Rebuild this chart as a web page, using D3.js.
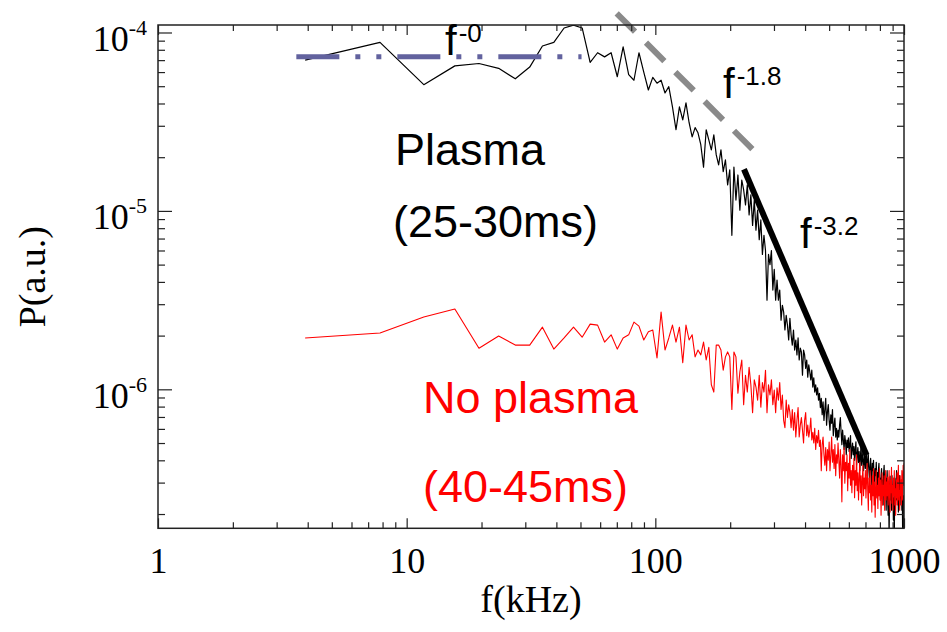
<!DOCTYPE html>
<html><head><meta charset="utf-8">
<script src="https://cdn.jsdelivr.net/npm/d3@7"></script>
<style>body{margin:0;background:#fff}svg{display:block}</style>
</head><body>
<svg id="chart" width="947" height="632"></svg>
<script>
// FFT bin spacing (kHz); spectra sampled at k * freqStep, k = 1..256
const freqStep = 3.90625;

// Plasma spectrum (25-30 ms), P(a.u.)
const plasma = [
7.0e-5,8.8e-5,5.1e-5,6.5e-5,6.7e-5,6.3e-5,5.5e-5,6.4e-5,8.4e-5,8.8e-5,
1.06e-4,1.10e-4,1.06e-4,6.8e-5,7.7e-5,7.3e-5,7.7e-5,5.65e-5,8.3e-5,5.8e-5,
5.4e-5,7.7e-5,6.0e-5,4.76e-5,5.6e-5,5.2e-5,5.4e-5,4.58e-5,4.97e-5,3.83e-5,
2.85e-5,3.83e-5,3.24e-5,4.03e-5,3.12e-5,2.6e-5,2.93e-5,2.74e-5,2.35e-5,1.76e-5,
2.85e-5,2.50e-5,2.20e-5,2.67e-5,2.06e-5,1.81e-5,2.20e-5,1.66e-5,1.93e-5,1.40e-5,
1.70e-5,7.3e-6,1.76e-5,1.15e-5,1.59e-5,1.01e-5,1.49e-5,1.31e-5,1.08e-5,1.40e-5,
9.5e-6,1.23e-5,8.3e-6,1.15e-5,7.8e-6,1.01e-5,6.9e-6,8.9e-6,5.7e-6,7.3e-6,
6.0e-6,3.16e-6,5.7e-6,5.0e-6,6.0e-6,3.6e-6,4.7e-6,3.16e-6,4.1e-6,3.16e-6,
3.6e-6,2.44e-6,2.96e-6,2.71e-6,2.15e-6,2.6e-6,2.29e-6,1.89e-6,2.5e-6,2.02e-6,
1.77e-6,2.15e-6,1.66e-6,1.89e-6,1.56e-6,1.94e-6,1.46e-6,1.70e-6,1.62e-6,1.2e-6,
1.66e-6,1.56e-6,1.31e-6,1.46e-6,1.17e-6,1.37e-6,1.25e-6,1.13e-6,1.28e-6,1.03e-6,
1.16e-6,9.65e-7,1.06e-6,9.3e-7,1.02e-6,8.7e-7,9.5e-7,7.9e-7,8.9e-7,7.2e-7,
8.5e-7,6.7e-7,7.7e-7,8.9e-7,6.3e-7,7.5e-7,8.2e-7,6.7e-7,5.9e-7,7.2e-7,
6.45e-7,7.7e-7,5.5e-7,6.3e-7,6.9e-7,5.4e-7,6.05e-7,5.2e-7,5.9e-7,5.4e-7,
6.3e-7,6.95e-7,5.75e-7,4.9e-7,5.9e-7,5.2e-7,4.6e-7,5.5e-7,5.07e-7,4.3e-7,
5.2e-7,4.72e-7,5.34e-7,4.48e-7,4.9e-7,5.5e-7,4.1e-7,4.6e-7,5.0e-7,4.3e-7,
4.78e-7,4.0e-7,4.6e-7,5.07e-7,3.75e-7,4.3e-7,4.72e-7,3.9e-7,4.48e-7,3.5e-7,
4.16e-7,4.9e-7,3.75e-7,4.1e-7,4.48e-7,3.5e-7,3.9e-7,4.3e-7,3.6e-7,4.16e-7,
4.48e-7,3.28e-7,3.9e-7,4.3e-7,3.5e-7,3.1e-7,3.75e-7,4.1e-7,3.41e-7,2.9e-7,
3.85e-7,3.5e-7,4.0e-7,3.18e-7,2.7e-7,3.6e-7,3.28e-7,3.9e-7,3.1e-7,3.41e-7,
2.53e-7,3.5e-7,3.85e-7,2.9e-7,3.18e-7,2.4e-7,3.28e-7,3.6e-7,2.7e-7,3.1e-7,
2.25e-7,3.41e-7,3.75e-7,2.77e-7,2.53e-7,3.18e-7,2.1e-7,2.9e-7,3.5e-7,2.46e-7,
1.97e-7,2.98e-7,1.43e-7,2.7e-7,3.26e-7,2.4e-7,2.77e-7,2.1e-7,3.28e-7,2.53e-7,
2.9e-7,1.85e-7,2.46e-7,1.43e-7,3.18e-7,2.63e-7,2.25e-7,2.98e-7,3.5e-7,2.4e-7,
2.7e-7,3.18e-7,2.05e-7,2.9e-7,2.53e-7,3.28e-7,2.25e-7,2.77e-7,2.46e-7,3.1e-7,
2.1e-7,2.7e-7,1.34e-7,1.43e-7,2.53e-7,1.43e-7
];

// No-plasma spectrum (40-45 ms), P(a.u.)
const noPlasma = [
1.94e-6,2.07e-6,2.54e-6,2.82e-6,1.70e-6,1.99e-6,1.77e-6,1.77e-6,2.23e-6,1.68e-6,
1.94e-6,2.23e-6,1.96e-6,2.32e-6,2.29e-6,1.84e-6,2.02e-6,1.68e-6,1.94e-6,2.02e-6,
2.38e-6,2.26e-6,1.89e-6,2.1e-6,2.15e-6,1.5e-6,2.71e-6,1.66e-6,1.94e-6,2.29e-6,
1.84e-6,2.23e-6,1.41e-6,2.29e-6,1.89e-6,2.02e-6,1.52e-6,1.66e-6,1.56e-6,1.84e-6,
1.46e-6,1.72e-6,1.06e-6,9.65e-7,1.77e-6,1.77e-6,1.66e-6,1.28e-6,1.52e-6,1.62e-6,
1.52e-6,7.7e-7,1.62e-6,1.52e-6,9.5e-7,1.25e-6,1.46e-6,8.2e-7,1.2e-6,9.65e-7,
1.33e-6,1.06e-6,7.4e-7,1.13e-6,1.03e-6,8.7e-7,1.2e-6,7.95e-7,1.09e-6,9.65e-7,
1.28e-6,7.4e-7,1.06e-6,9.3e-7,1.13e-6,8.2e-7,9.9e-7,7.4e-7,1.02e-6,8.7e-7,
1.09e-6,7.7e-7,9.3e-7,6.7e-7,6.1e-7,8.7e-7,6.95e-7,8.2e-7,7.4e-7,6.1e-7,
7.7e-7,5.9e-7,7.4e-7,5.4e-7,6.7e-7,7.9e-7,5.4e-7,6.3e-7,6.95e-7,5.9e-7,
5.0e-7,6.7e-7,7.4e-7,5.5e-7,6.3e-7,5.4e-7,5.9e-7,6.9e-7,5.2e-7,5.75e-7,
5.0e-7,6.05e-7,4.6e-7,5.5e-7,5.0e-7,5.9e-7,4.78e-7,5.2e-7,3.5e-7,4.9e-7,
5.4e-7,4.3e-7,3.75e-7,4.72e-7,3.5e-7,4.6e-7,4.0e-7,5.07e-7,3.5e-7,4.3e-7,
5.4e-7,3.9e-7,4.6e-7,3.6e-7,4.9e-7,3.28e-7,4.3e-7,3.85e-7,5.0e-7,4.0e-7,
3.18e-7,4.6e-7,3.75e-7,2.34e-7,4.3e-7,3.5e-7,4.72e-7,2.98e-7,3.9e-7,3.5e-7,
4.3e-7,2.7e-7,3.85e-7,3.18e-7,4.6e-7,2.9e-7,3.5e-7,2.63e-7,3.75e-7,3.1e-7,
4.1e-7,2.47e-7,3.5e-7,2.9e-7,4.3e-7,2.7e-7,3.41e-7,2.4e-7,3.18e-7,3.9e-7,
2.63e-7,3.28e-7,2.25e-7,3.1e-7,3.75e-7,2.53e-7,3.18e-7,2.77e-7,3.5e-7,2.46e-7,
3.1e-7,3.85e-7,2.7e-7,2.1e-7,3.18e-7,2.63e-7,3.5e-7,2.4e-7,2.9e-7,2.05e-7,
3.28e-7,2.53e-7,3.6e-7,2.25e-7,3.02e-7,1.92e-7,2.7e-7,3.5e-7,2.46e-7,2.9e-7,
2.15e-7,3.18e-7,2.53e-7,3.6e-7,2.4e-7,3.1e-7,1.97e-7,2.7e-7,3.41e-7,2.25e-7,
2.9e-7,2.53e-7,3.28e-7,2.1e-7,2.77e-7,3.5e-7,2.4e-7,3.02e-7,2.53e-7,3.22e-7,
2.25e-7,2.77e-7,3.5e-7,2.46e-7,2.05e-7,3.1e-7,2.63e-7,3.65e-7,2.3e-7,2.9e-7,
2.1e-7,3.18e-7,2.53e-7,3.5e-7,2.25e-7,2.77e-7,1.97e-7,3.1e-7,2.47e-7,3.41e-7,
2.25e-7,2.9e-7,3.75e-7,2.4e-7,2.7e-7,2.1e-7,3.28e-7,2.53e-7,3.1e-7,2.25e-7,
3.5e-7,2.63e-7,2.4e-7,3.75e-7,2.9e-7,3.85e-7
];

// Power-law guide lines: [f (kHz), P]
const fitFlat  = [[3.6, 7.31e-5], [50.5, 7.31e-5]];
const fitMid   = [[69.9, 1.281e-4], [247.5, 2.195e-5]];
const fitSteep = [[227.2, 1.711e-5], [707.3, 4.28e-7]];

// Axis ticks
const xTickValues = [1, 10, 100, 1000];
const xTickLabels = ["1", "10", "100", "1000"];
const yTickValues = [1e-4, 1e-5, 1e-6];
const yTickExponents = ["-4", "-5", "-6"];
const xDomain = [1, 1000];
const yDomain = [Math.pow(10, -6.779), Math.pow(10, -3.958)];

// Annotations
const labels = [
  {text: "Plasma", x: 395, y: 165, color: "#000"},
  {text: "(25-30ms)", x: 393, y: 237, color: "#000"},
  {text: "No plasma", x: 423, y: 413, color: "#ff0000"},
  {text: "(40-45ms)", x: 423, y: 502, color: "#ff0000"}
];
const powerLabels = [
  {base: "f", exp: "-0", x: 445, y: 55},
  {base: "f", exp: "-1.8", x: 723, y: 98},
  {base: "f", exp: "-3.2", x: 800, y: 248}
];

const W = 947, H = 632;
const L = 158, R = 904, T = 25, B = 528.3;
const SERIF = "'Liberation Serif','Times New Roman',Times,serif";
const SANS = "'Liberation Sans',Arial,Helvetica,sans-serif";
const AX = "#222";

const svg = d3.select("#chart");
svg.append("rect").attr("width", W).attr("height", H).attr("fill", "#fff");

const x = d3.scaleLog().domain(xDomain).range([L, R]);
const y = d3.scaleLog().domain(yDomain).range([B, T]);

function minorTicks(lo, hi) {
  const out = [];
  for (let e = Math.floor(Math.log10(lo)); e <= Math.ceil(Math.log10(hi)); e++) {
    for (let m = 2; m <= 9; m++) {
      const v = m * Math.pow(10, e);
      if (v > lo && v < hi) out.push(v);
    }
  }
  return out;
}
const xMinor = minorTicks(xDomain[0], xDomain[1]);
const yMinor = minorTicks(yDomain[0], yDomain[1]);

svg.append("defs").append("clipPath").attr("id", "plotClip")
  .append("rect").attr("x", L).attr("y", T).attr("width", R - L).attr("height", B - T);

// data series
const line = d3.line().x(d => x(d[0])).y(d => y(d[1]));
const plot = svg.append("g").attr("clip-path", "url(#plotClip)");
plot.append("path")
  .datum(plasma.map((p, i) => [(i + 1) * freqStep, p]))
  .attr("d", line).attr("fill", "none").attr("stroke", "#000")
  .attr("stroke-width", 1.2).attr("stroke-linejoin", "round");
plot.append("path")
  .datum(noPlasma.map((p, i) => [(i + 1) * freqStep, p]))
  .attr("d", line).attr("fill", "none").attr("stroke", "#ff0000")
  .attr("stroke-width", 1.1).attr("stroke-linejoin", "round");

// guide lines
svg.append("path").datum(fitFlat).attr("d", line)
  .attr("fill", "none").attr("stroke", "#62629e").attr("stroke-width", 5)
  .attr("stroke-dasharray", "43,16,5,16,5,16");
svg.append("path").datum(fitMid).attr("d", line)
  .attr("fill", "none").attr("stroke", "#8a8a8a").attr("stroke-width", 6)
  .attr("stroke-dasharray", "26,15.5");
svg.append("path").datum(fitSteep).attr("d", line)
  .attr("fill", "none").attr("stroke", "#000").attr("stroke-width", 6);

// axes
function styleAxis(g) {
  g.select(".domain").remove();
  g.selectAll(".tick line").attr("stroke", AX).attr("stroke-width", 1.2);
}
svg.append("g").attr("transform", `translate(0,${B})`)
  .call(d3.axisBottom(x).tickValues(xMinor).tickSize(-6).tickFormat(""))
  .call(styleAxis);
const gx = svg.append("g").attr("transform", `translate(0,${B})`)
  .call(d3.axisBottom(x).tickValues(xTickValues).tickSize(-10).tickPadding(19)
    .tickFormat((d, i) => xTickLabels[i]))
  .call(styleAxis);
gx.selectAll(".tick text").attr("font-family", SERIF).attr("font-size", 36).attr("fill", "#000");

svg.append("g").attr("transform", `translate(0,${T})`)
  .call(d3.axisTop(x).tickValues(xMinor).tickSize(-6).tickFormat("")).call(styleAxis);
svg.append("g").attr("transform", `translate(0,${T})`)
  .call(d3.axisTop(x).tickValues(xTickValues).tickSize(-10).tickFormat("")).call(styleAxis);

svg.append("g").attr("transform", `translate(${L},0)`)
  .call(d3.axisLeft(y).tickValues(yMinor).tickSize(-7).tickFormat("")).call(styleAxis);
const gy = svg.append("g").attr("transform", `translate(${L},0)`)
  .call(d3.axisLeft(y).tickValues(yTickValues).tickSize(-14).tickPadding(11).tickFormat(""))
  .call(styleAxis);
gy.selectAll(".tick").each(function(d, i) {
  const t = d3.select(this).append("text")
    .attr("x", -11).attr("y", 18).attr("text-anchor", "end")
    .attr("font-family", SERIF).attr("font-size", 36).attr("fill", "#000");
  t.append("tspan").text("10");
  t.append("tspan").attr("dy", -16).attr("font-size", 22).text(yTickExponents[i]);
});

svg.append("g").attr("transform", `translate(${R},0)`)
  .call(d3.axisRight(y).tickValues(yMinor).tickSize(-7).tickFormat("")).call(styleAxis);
svg.append("g").attr("transform", `translate(${R},0)`)
  .call(d3.axisRight(y).tickValues(yTickValues).tickSize(-14).tickFormat("")).call(styleAxis);

svg.append("rect").attr("x", L).attr("y", T).attr("width", R - L).attr("height", B - T)
  .attr("fill", "none").attr("stroke", AX).attr("stroke-width", 1.5);

// axis titles
svg.append("text").attr("x", (L + R) / 2).attr("y", 612).attr("text-anchor", "middle")
  .attr("font-family", SERIF).attr("font-size", 38).attr("fill", "#000").text("f(kHz)");
svg.append("text").attr("transform", `translate(45,${(T + B) / 2}) rotate(-90)`)
  .attr("text-anchor", "middle").attr("font-family", SERIF).attr("font-size", 38)
  .attr("fill", "#000").text("P(a.u.)");

// annotations
svg.selectAll("text.lab").data(labels).enter().append("text").attr("class", "lab")
  .attr("x", d => d.x).attr("y", d => d.y).attr("fill", d => d.color)
  .attr("font-family", SANS).attr("font-size", 45).text(d => d.text);

powerLabels.forEach(d => {
  const t = svg.append("text").attr("x", d.x).attr("y", d.y)
    .attr("font-family", SANS).attr("font-size", 42).attr("fill", "#000");
  t.append("tspan").text(d.base);
  t.append("tspan").attr("dx", 2).attr("dy", -13).attr("font-size", 26).text(d.exp);
});
</script>
</body></html>
